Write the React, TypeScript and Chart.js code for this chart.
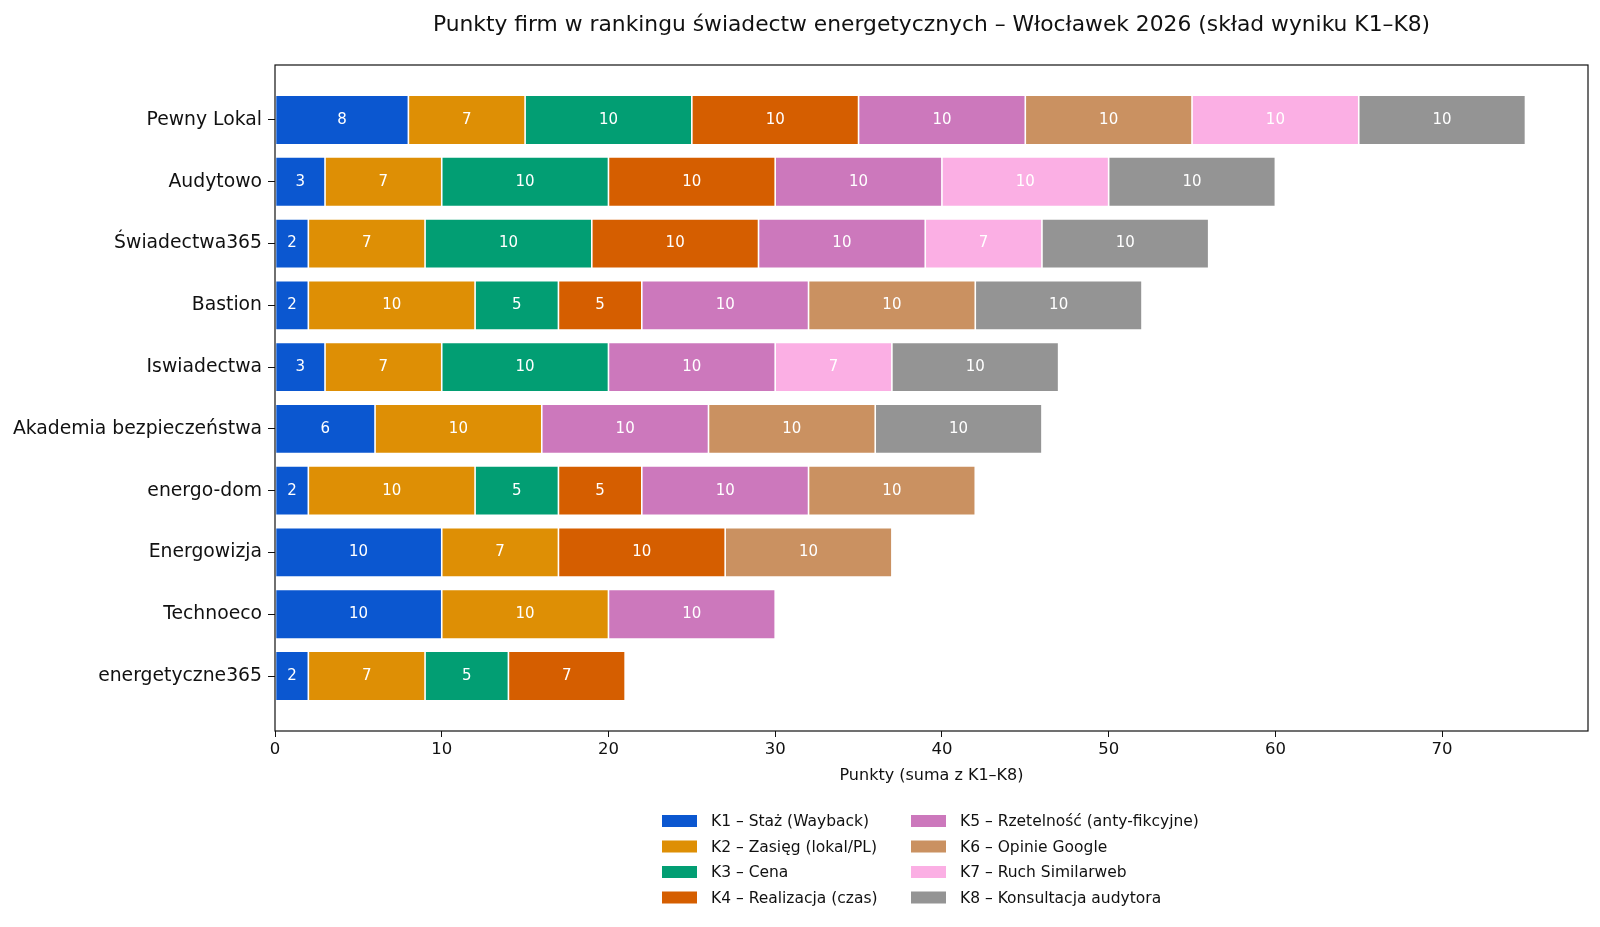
import React, { useEffect, useRef } from "react";
import { Chart, registerables } from "chart.js";

Chart.register(...registerables);

const FONT = "'DejaVu Sans', sans-serif";

const companies = [
  "Pewny Lokal",
  "Audytowo",
  "Świadectwa365",
  "Bastion",
  "Iswiadectwa",
  "Akademia bezpieczeństwa",
  "energo-dom",
  "Energowizja",
  "Technoeco",
  "energetyczne365",
];

// points per criterion, same order as companies
const k1 = [8, 3, 2, 2, 3, 6, 2, 10, 10, 2];
const k2 = [7, 7, 7, 10, 7, 10, 10, 7, 10, 7];
const k3 = [10, 10, 10, 5, 10, 0, 5, 0, 0, 5];
const k4 = [10, 10, 10, 5, 0, 0, 5, 10, 0, 7];
const k5 = [10, 10, 10, 10, 10, 10, 10, 0, 10, 0];
const k6 = [10, 0, 0, 10, 0, 10, 10, 10, 0, 0];
const k7 = [10, 10, 7, 0, 7, 0, 0, 0, 0, 0];
const k8 = [10, 10, 10, 10, 10, 10, 0, 0, 0, 0];

const seriesNames = [
  "K1 – Staż (Wayback)",
  "K2 – Zasięg (lokal/PL)",
  "K3 – Cena",
  "K4 – Realizacja (czas)",
  "K5 – Rzetelność (anty-fikcyjne)",
  "K6 – Opinie Google",
  "K7 – Ruch Similarweb",
  "K8 – Konsultacja audytora",
];
const seriesColors = [
  "#0b57d0",
  "#de8f05",
  "#029e73",
  "#d55e00",
  "#cc78bc",
  "#ca9161",
  "#fbafe4",
  "#949494",
];
const series = [k1, k2, k3, k4, k5, k6, k7, k8];

const xTicks = [0, 10, 20, 30, 40, 50, 60, 70];

const TITLE =
  "Punkty firm w rankingu świadectw energetycznych – Włocławek 2026 (skład wyniku K1–K8)";
const X_LABEL = "Punkty (suma z K1–K8)";

const overlay = {
  id: "overlay",
  afterDatasetsDraw(chart: any) {
    const ctx = chart.ctx;
    ctx.save();
    ctx.font = `15px ${FONT}`;
    ctx.fillStyle = "#fff";
    ctx.textAlign = "center";
    ctx.textBaseline = "middle";
    series.forEach((vals, di) => {
      const meta = chart.getDatasetMeta(di);
      meta.data.forEach((el: any, i: number) => {
        const v = vals[i];
        if (!v) return;
        const p = el.getProps(["x", "y", "base"], true);
        ctx.fillText(String(v), (p.x + p.base) / 2, p.y);
      });
    });
    ctx.restore();
  },
  afterDraw(chart: any) {
    const { ctx, chartArea: a } = chart;
    ctx.save();
    // axes frame
    ctx.strokeStyle = "#111";
    ctx.lineWidth = 1.2;
    ctx.strokeRect(a.left, a.top, a.right - a.left, a.bottom - a.top);

    const cx = (a.left + a.right) / 2;
    ctx.fillStyle = "#111";
    ctx.textAlign = "center";
    ctx.textBaseline = "middle";
    ctx.font = `21.8px ${FONT}`;
    ctx.fillText(TITLE, cx, 25);
    ctx.font = `16px ${FONT}`;
    ctx.fillText(X_LABEL, cx, 776);

    // legend, two columns of four
    ctx.font = `15.5px ${FONT}`;
    ctx.textAlign = "left";
    const colX = [662, 911];
    seriesNames.forEach((name, i) => {
      const col = Math.floor(i / 4);
      const row = i % 4;
      const y = 821 + row * 25.5;
      ctx.fillStyle = seriesColors[i];
      ctx.fillRect(colX[col], y - 6, 35, 12);
      ctx.fillStyle = "#111";
      ctx.fillText(name, colX[col] + 49, y + 1);
    });
    ctx.restore();
  },
};

const App = () => {
  const canvasRef = useRef<HTMLCanvasElement | null>(null);

  useEffect(() => {
    document.body.style.margin = "0";
    const ctx = canvasRef.current?.getContext("2d") as CanvasRenderingContext2D;

    const datasets = series.map((vals, di) => ({
      label: seriesNames[di],
      data: vals.map((v, i) => ({ x: v === 0 ? null : v, y: i })),
      backgroundColor: seriesColors[di],
      borderColor: "rgba(255,255,255,0.45)",
      borderWidth: 0.8,
      borderSkipped: false,
      categoryPercentage: 0.8,
      barPercentage: 1,
    }));

    const chart = new Chart(ctx, {
      type: "bar",
      data: { datasets },
      plugins: [overlay],
      options: {
        animation: false,
        responsive: true,
        maintainAspectRatio: false,
        indexAxis: "y",
        layout: { padding: { top: 65, right: 12, left: 0, bottom: 0 } },
        plugins: {
          legend: { display: false },
          title: { display: false },
          tooltip: { enabled: false },
        },
        scales: {
          x: {
            type: "linear",
            stacked: true,
            min: 0,
            max: 78.75,
            afterBuildTicks: (scale: any) => {
              scale.ticks = xTicks.map((v) => ({ value: v }));
            },
            afterFit: (scale: any) => {
              scale.height = 196;
            },
            ticks: {
              color: "#111",
              font: { family: FONT, size: 16.5 },
              padding: 3,
            },
            grid: {
              display: true,
              drawOnChartArea: false,
              drawTicks: true,
              tickLength: 6,
              color: "#111",
            },
            border: { display: false },
          },
          y: {
            type: "linear",
            stacked: true,
            reverse: true,
            offset: false,
            min: -0.89,
            max: 9.89,
            afterBuildTicks: (scale: any) => {
              scale.ticks = companies.map((_, i) => ({ value: i }));
            },
            afterFit: (scale: any) => {
              scale.width = 275;
            },
            ticks: {
              color: "#111",
              font: { family: FONT, size: 18.8 },
              padding: 6,
              callback: (_v: any, i: number) => companies[i],
            },
            grid: {
              display: true,
              offset: false,
              drawOnChartArea: false,
              drawTicks: true,
              tickLength: 7,
              color: "#111",
            },
            border: { display: false },
          },
        },
      },
    } as any);

    return () => {
      chart.destroy();
    };
  }, []);

  return (
    <div style={{ position: "relative", width: 1600, height: 927 }}>
      <canvas ref={canvasRef} />
    </div>
  );
};

export default App;
